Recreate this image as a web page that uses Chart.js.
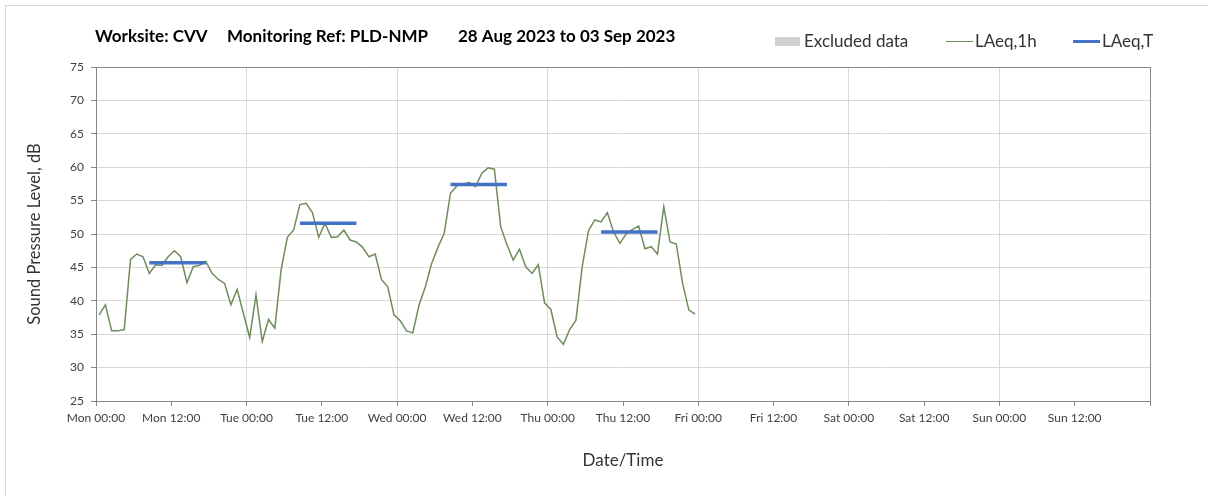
<!DOCTYPE html>
<html>
<head>
<meta charset="utf-8">
<script src="https://cdn.jsdelivr.net/npm/chart.js@4.4.1/dist/chart.umd.min.js"></script>
<style>
  body { margin: 0; background: #fff; overflow: hidden; }
  #wrap { position: relative; width: 1208px; height: 496px; }
  #frame {
    position: absolute; left: 5px; top: 5px; width: 1220px; height: 510px;
    border: 1px solid #d9d9d9; box-sizing: border-box;
  }
  canvas { position: absolute; left: 0; top: 0; }
</style>
</head>
<body>
<div id="wrap">
  <div id="frame"></div>
  <canvas id="chart" width="1208" height="496"></canvas>
</div>
<script>
const titleParts = ['Worksite: CVV', 'Monitoring Ref: PLD-NMP', '28 Aug 2023 to 03 Sep 2023'];
const xTitle = 'Date/Time';
const yTitle = 'Sound Pressure Level, dB';

const xTickLabels = [
  'Mon 00:00', 'Mon 12:00', 'Tue 00:00', 'Tue 12:00', 'Wed 00:00', 'Wed 12:00',
  'Thu 00:00', 'Thu 12:00', 'Fri 00:00', 'Fri 12:00', 'Sat 00:00', 'Sat 12:00',
  'Sun 00:00', 'Sun 12:00', '',
];

// hourly LAeq,1h from Mon 00:00, plotted at the middle of each hour
const firstSample = 0.5;
const laeq1h = [
  37.9, 39.4, 35.5, 35.5, 35.7, 46.2, 47.0, 46.6, 44.1, 45.4, 45.3, 46.6,
  47.5, 46.6, 42.7, 45.1, 45.3, 45.9, 44.1, 43.2, 42.6, 39.4, 41.7, 38.1,
  34.5, 40.9, 33.9, 37.2, 35.9, 44.6, 49.5, 50.6, 54.4, 54.6, 53.2, 49.5,
  51.6, 49.5, 49.6, 50.6, 49.1, 48.8, 48.0, 46.6, 47.0, 43.2, 42.1, 37.9,
  37.0, 35.5, 35.2, 39.4, 42.1, 45.6, 48.0, 50.1, 56.1, 57.2, 57.5, 57.7,
  57.1, 59.1, 59.9, 59.7, 51.1, 48.4, 46.1, 47.7, 45.1, 44.1, 45.4, 39.7,
  38.7, 34.6, 33.5, 35.7, 37.1, 45.1, 50.5, 52.1, 51.8, 53.2, 50.3, 48.6,
  50.0, 50.7, 51.2, 47.8, 48.1, 47.0, 54.1, 48.8, 48.5, 42.6, 38.6, 38.0,
];

// LAeq,T over each day's period (hours from Mon 00:00)
const periodStart = [8.5, 32.5, 56.5, 80.5];
const periodEnd = [17.5, 41.5, 65.5, 89.5];
const laeqT = [45.7, 51.6, 57.4, 50.3];

const titleX = [95, 227, 458];
const legendX = [775, 946, 1073];

const hourlyPoints = laeq1h.map((v, i) => ({ x: firstSample + i, y: v }));

const periodPoints = [];
laeqT.forEach((v, i) => {
  periodPoints.push({ x: periodStart[i], y: v });
  periodPoints.push({ x: periodEnd[i], y: v });
  periodPoints.push({ x: periodEnd[i], y: null });
});

const tickFont = { family: 'Lato', size: 12 };
const axisGray = '#868686';

// title and legend sit on one line, so they are drawn here
const headerPlugin = {
  id: 'header',
  afterDraw(chart) {
    const ctx = chart.ctx;
    ctx.save();
    ctx.textBaseline = 'middle';
    ctx.fillStyle = '#000';
    ctx.font = 'bold 17px Lato';
    titleParts.forEach((text, i) => ctx.fillText(text, titleX[i], 37));

    ctx.font = '17px Lato';
    chart.data.datasets.forEach((ds, i) => {
      const x = legendX[i];
      if (ds.fill) {
        ctx.fillStyle = ds.backgroundColor;
        ctx.fillRect(x, 37, 25, 9);
      } else {
        ctx.strokeStyle = ds.borderColor;
        ctx.lineWidth = ds.legendWidth;
        ctx.beginPath();
        ctx.moveTo(x, 41.5);
        ctx.lineTo(x + 27, 41.5);
        ctx.stroke();
      }
      ctx.fillStyle = '#333';
      ctx.fillText(ds.label, x + 29, 42);
    });
    ctx.restore();
  },
};

new Chart(document.getElementById('chart'), {
  type: 'line',
  data: {
    datasets: [
      {
        label: 'Excluded data',
        data: [],
        fill: true,
        backgroundColor: '#d0d0d0',
        order: 2,
      },
      {
        label: 'LAeq,1h',
        data: hourlyPoints,
        borderColor: '#6f8c5c',
        borderWidth: 1.5,
        legendWidth: 1,
        pointRadius: 0,
        tension: 0,
        order: 1,
      },
      {
        label: 'LAeq,T',
        data: periodPoints,
        borderColor: '#4472c4',
        borderWidth: 3.5,
        legendWidth: 3,
        pointRadius: 0,
        spanGaps: false,
        order: 0,
      },
    ],
  },
  options: {
    responsive: false,
    devicePixelRatio: 1,
    animation: false,
    layout: {
      padding: { top: 67, right: 58, bottom: 0, left: 0 },
    },
    scales: {
      x: {
        type: 'linear',
        min: 0,
        max: 168,
        afterFit: (scale) => {
          scale.height = 95;
        },
        border: { color: axisGray, width: 1 },
        grid: {
          color: (c) => {
            if (c.tick.value === 168) return axisGray;
            return c.tick.value % 24 === 0 ? '#d9d9d9' : 'rgba(0,0,0,0)';
          },
          tickColor: axisGray,
          tickLength: 5,
        },
        ticks: {
          stepSize: 12,
          autoSkip: false,
          maxRotation: 0,
          padding: 5,
          color: '#404040',
          font: tickFont,
          callback: (value) => xTickLabels[value / 12],
        },
        title: {
          display: true,
          text: xTitle,
          color: '#333',
          font: { family: 'Lato', size: 17 },
          padding: { top: 0, bottom: 25 },
        },
      },
      y: {
        min: 25,
        max: 75,
        afterFit: (scale) => {
          scale.width = 96;
        },
        border: { color: axisGray, width: 1 },
        grid: {
          color: (c) => (c.tick.value === 75 ? axisGray : '#d9d9d9'),
          tickColor: axisGray,
          tickLength: 5,
        },
        ticks: {
          stepSize: 5,
          padding: 7,
          color: '#404040',
          font: tickFont,
        },
        title: {
          display: true,
          text: yTitle,
          color: '#333',
          font: { family: 'Lato', size: 16.5 },
          padding: { top: 25, bottom: 0 },
        },
      },
    },
    plugins: {
      legend: { display: false },
      title: { display: false },
      tooltip: { enabled: false },
    },
  },
  plugins: [headerPlugin],
});
</script>
</body>
</html>
